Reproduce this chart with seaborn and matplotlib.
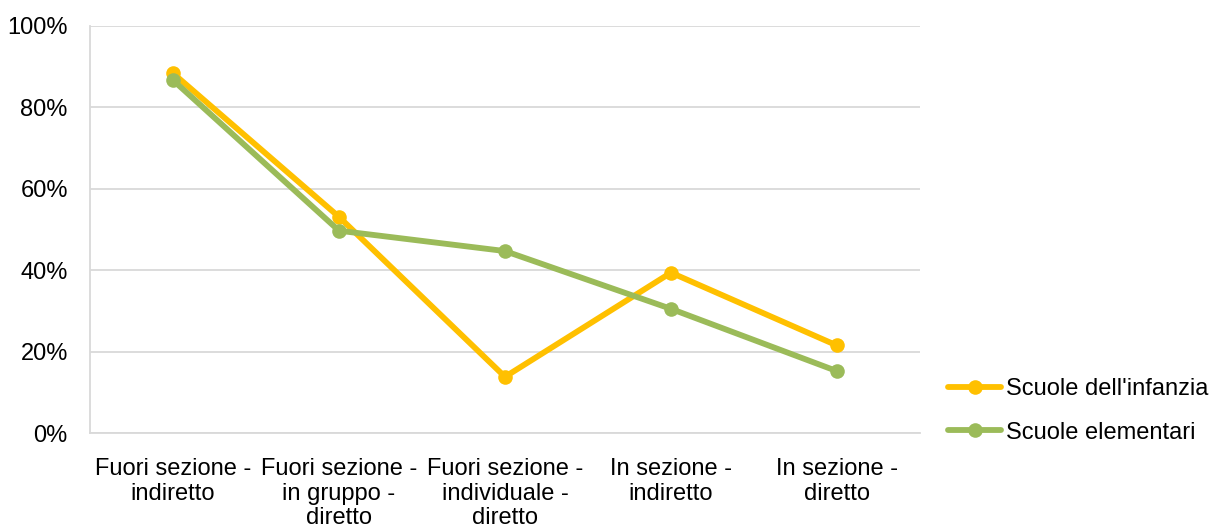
import matplotlib
matplotlib.use("Agg")
import matplotlib.pyplot as plt
import seaborn as sns
import pandas as pd
import numpy as np
from matplotlib.ticker import PercentFormatter

categorie = ["Fuori sezione -\nindiretto",
             "Fuori sezione -\nin gruppo -\ndiretto",
             "Fuori sezione -\nindividuale -\ndiretto",
             "In sezione -\nindiretto",
             "In sezione -\ndiretto"]
infanzia = [88.4, 53.1, 13.8, 39.4, 21.5]
elementari = [86.7, 49.7, 44.7, 30.5, 15.2]
serie = ["Scuole dell'infanzia", "Scuole elementari"]
colori = ["#FFC000", "#9BBB59"]

df = pd.DataFrame({
    "cat": categorie * 2,
    "pos": list(range(len(categorie))) * 2,
    "val": infanzia + elementari,
    "serie": [serie[0]] * len(categorie) + [serie[1]] * len(categorie),
})

sns.set_theme(style="white")
plt.rcParams['font.family'] = ['Liberation Sans', 'DejaVu Sans']
plt.rcParams['text.color'] = 'black'
plt.rcParams['xtick.color'] = 'black'
plt.rcParams['ytick.color'] = 'black'

fig = plt.figure(figsize=(12.15, 5.28), dpi=100)
ax = fig.add_axes([90 / 1215, 1 - 433 / 528, 830 / 1215, 407 / 528])

sns.lineplot(data=df, x="pos", y="val", hue="serie", palette=colori,
             marker="o", markersize=10.5, markeredgewidth=0, linewidth=4.2,
             sort=False, ax=ax, legend=False)

ax.set_xlim(-0.5, len(categorie) - 0.5)
ax.set_ylim(0, 100)
ax.set_yticks(np.arange(0, 101, 20))
ax.yaxis.set_major_formatter(PercentFormatter(decimals=0))
ax.set_xticks(range(len(categorie)))
ax.set_xticklabels(categorie, fontsize=17, linespacing=1.15)
ax.tick_params(axis="y", labelsize=17, length=0, pad=16)
ax.tick_params(axis="x", length=0, pad=18)
ax.set_xlabel("")
ax.set_ylabel("")
ax.grid(axis="y", color="#D9D9D9", linewidth=1.3)
ax.set_axisbelow(True)
for s in ["top", "right"]:
    ax.spines[s].set_visible(False)
ax.spines["bottom"].set_color("#D9D9D9")
ax.spines["left"].set_color("#D9D9D9")
ax.spines["bottom"].set_linewidth(1.3)
ax.spines["left"].set_linewidth(1.3)

handles = [plt.Line2D([], [], color=c, linewidth=4.2, marker="o", markersize=10.5,
                      markeredgewidth=0) for c in colori]
fig.legend(handles, serie, loc="center left", bbox_to_anchor=(948 / 1215, 1 - 411 / 528),
           frameon=False, fontsize=17, handlelength=2.25, handletextpad=0.2,
           labelspacing=0.9, borderaxespad=0, borderpad=0)

fig.savefig("out.png", dpi=100)
